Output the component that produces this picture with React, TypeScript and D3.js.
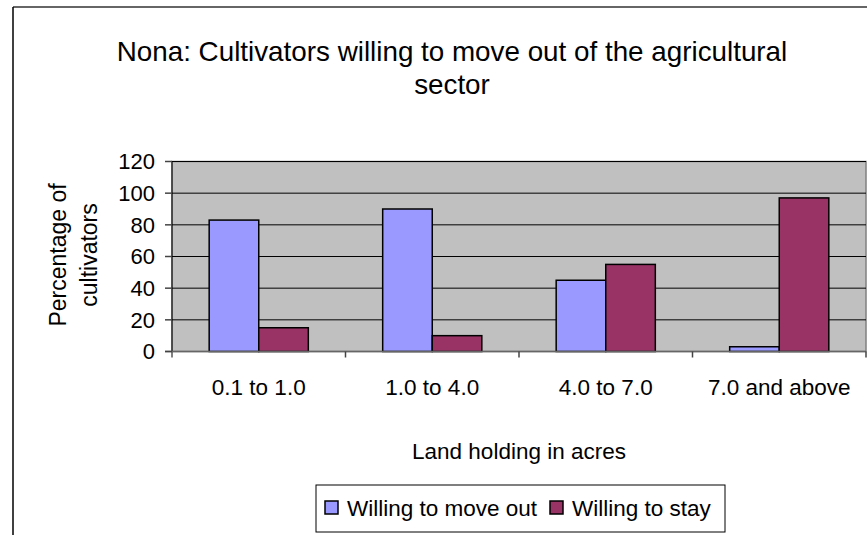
import { useEffect } from 'react';
import * as d3 from 'd3';

const categories = ['0.1 to 1.0', '1.0 to 4.0', '4.0 to 7.0', '7.0 and above'];
const seriesNames = ['Willing to move out', 'Willing to stay'];
const moveOut = [83, 90, 45, 3];
const stay = [15, 10, 55, 97];
const yTicks = [0, 20, 40, 60, 80, 100, 120];
const colors = ['#9999FF', '#993366'];

const W = 867;
const H = 535;
const font = '"Liberation Sans", Arial, sans-serif';

export default function App() {
    useEffect(() => {
        document.body.style.margin = '0';
    }, []);

    const plot = { left: 172, right: 866, top: 161.5, bottom: 351.5 };

    const x = d3.scaleBand<string>()
        .domain(categories)
        .range([plot.left, plot.right])
        .padding(0);

    const y = d3.scaleLinear()
        .domain([0, 120])
        .range([plot.bottom, plot.top]);

    // Excel style: gap width 150% of a bar
    const barW = x.bandwidth() / (seriesNames.length + 1.5);
    const groupW = barW * seriesNames.length;
    const inner = d3.scaleBand<string>()
        .domain(seriesNames)
        .range([0, groupW]);

    const values = [moveOut, stay];

    return (
        <svg width={W} height={H} style={{ display: 'block', fontFamily: font }}>
            <rect x={0} y={0} width={W} height={H} fill="#fff" />
            {/* outer chart frame */}
            <line x1={13} y1={7} x2={W} y2={7} stroke="#333" strokeWidth={1.5} />
            <line x1={13} y1={7} x2={13} y2={H} stroke="#000" strokeWidth={1.5} />

            {/* title */}
            <text x={452} y={61} textAnchor="middle" fontSize={27.8} fill="#000">
                Nona: Cultivators willing to move out of the agricultural
            </text>
            <text x={452} y={94} textAnchor="middle" fontSize={27.8} fill="#000">
                sector
            </text>

            {/* plot area */}
            <rect x={plot.left} y={plot.top} width={plot.right - plot.left}
                height={plot.bottom - plot.top} fill="#C0C0C0" stroke="#808080" strokeWidth={1.5} />

            {yTicks.filter(t => t > 0).map(t => (
                <line key={'g' + t} x1={plot.left} x2={plot.right} y1={y(t)} y2={y(t)}
                    stroke="#000" strokeWidth={1} />
            ))}

            {/* bars */}
            {categories.map((c, i) => {
                const x0 = (x(c) ?? 0) + (x.bandwidth() - groupW) / 2;
                return seriesNames.map((s, j) => (
                    <rect key={c + s}
                        x={x0 + (inner(s) ?? 0)}
                        y={y(values[j][i])}
                        width={inner.bandwidth()}
                        height={y(0) - y(values[j][i])}
                        fill={colors[j]} stroke="#000" strokeWidth={1.5} />
                ));
            })}

            {/* axes */}
            <line x1={plot.left} x2={plot.left} y1={plot.top} y2={plot.bottom + 6} stroke="#000" strokeWidth={1} />
            <line x1={plot.left - 7} x2={plot.right} y1={plot.bottom} y2={plot.bottom} stroke="#666" strokeWidth={1.5} />
            {yTicks.map(t => (
                <g key={'t' + t}>
                    <line x1={plot.left - 7} x2={plot.left} y1={y(t)} y2={y(t)} stroke="#444" strokeWidth={1.5} />
                    <text x={155} y={y(t)} dy="0.36em" textAnchor="end" fontSize={22} fill="#000">{t}</text>
                </g>
            ))}
            {categories.map((c, i) => (
                <g key={'c' + c}>
                    {i > 0 && (
                        <line x1={x(c)} x2={x(c)} y1={plot.bottom} y2={plot.bottom + 6} stroke="#444" strokeWidth={1.5} />
                    )}
                    <text x={(x(c) ?? 0) + x.bandwidth() / 2} y={395} textAnchor="middle" fontSize={22.5} fill="#000">{c}</text>
                </g>
            ))}
            <line x1={plot.right} x2={plot.right} y1={plot.bottom} y2={plot.bottom + 6} stroke="#444" strokeWidth={1.5} />

            {/* axis titles */}
            <text x={(plot.left + plot.right) / 2} y={459} textAnchor="middle" fontSize={22.5} fill="#000">
                Land holding in acres
            </text>
            <text transform="translate(66,255) rotate(-90)" textAnchor="middle" fontSize={23} fill="#000">
                Percentage of
            </text>
            <text transform="translate(97,255) rotate(-90)" textAnchor="middle" fontSize={23} fill="#000">
                cultivators
            </text>

            {/* legend */}
            <rect x={316} y={485} width={409} height={47} fill="#fff" stroke="#000" strokeWidth={1} />
            {seriesNames.map((s, j) => {
                const lx = j === 0 ? 325 : 550;
                return (
                    <g key={'l' + s}>
                        <rect x={lx} y={501} width={13} height={13} fill={colors[j]} stroke="#000" strokeWidth={1.5} />
                        <text x={lx + 22} y={516} fontSize={22.5} fill="#000">{s}</text>
                    </g>
                );
            })}
        </svg>
    );
}
